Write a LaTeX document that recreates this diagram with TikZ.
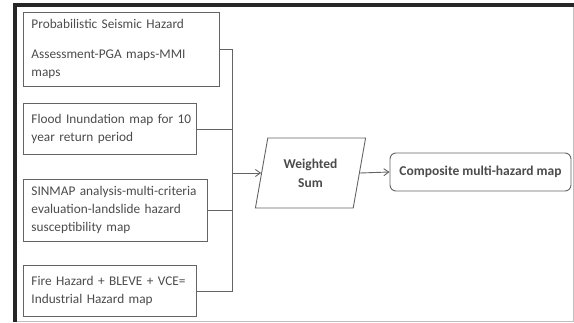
\documentclass[tikz,border=0pt]{standalone}
\usepackage{fontspec}
\setmainfont{Carlito}
\usetikzlibrary{arrows.meta,shapes.geometric}
\definecolor{edge}{RGB}{100,100,100}
\definecolor{ink}{RGB}{75,75,75}
\newcommand{\boxline}[1]{\mbox{#1}}
\tikzset{
  hazard/.style={draw=edge, line width=0.9pt, anchor=north west, align=left,
    inner xsep=8pt, inner ysep=0pt, font=\fontsize{13.3}{18}\selectfont, text=ink},
  link/.style={draw=edge, line width=0.9pt},
  flow/.style={link, -{Straight Barb[length=5pt,width=7pt]}},
}
\begin{document}
\begin{tikzpicture}[x=1pt,y=-1pt]
  \useasboundingbox (0,0) rectangle (574,322);
  % page frame
  \fill[black!85] (13,3) rectangle (574,6.5);
  \fill[black!85] (13,3) rectangle (16.5,322);
  \draw[black!25, line width=1pt] (573,6.5) -- (573,321) -- (16.5,321);

  % input hazard maps
  \node[hazard, text width=180pt, minimum height=74pt] (b1) at (23,12)
    {\boxline{Probabilistic Seismic Hazard}\\[12pt]\boxline{Assessment-PGA maps-MMI}\\\boxline{maps}};
  \node[hazard, text width=157pt, minimum height=51pt] (b2) at (23,103)
    {\boxline{Flood Inundation map for 10}\\\boxline{year return period}};
  \node[hazard, text width=168pt, minimum height=62pt] (b3) at (23,179)
    {\boxline{SINMAP analysis-multi-criteria}\\\boxline{evaluation-landslide hazard}\\\boxline{susceptibility map}};
  \node[hazard, text width=157pt, minimum height=51pt] (b4) at (23,265)
    {\boxline{Fire Hazard + BLEVE + VCE=}\\\boxline{Industrial Hazard map}};

  % weighted sum and result
  \node[draw=edge, line width=0.9pt, trapezium, trapezium left angle=76,
    trapezium right angle=104, trapezium stretches=true,
    minimum width=111pt, minimum height=70pt, align=center,
    font=\fontsize{13.5}{19}\selectfont\bfseries, text=ink] (ws) at (310.5,173)
    {Weighted\\Sum};
  \node[draw=edge, line width=0.9pt, rounded corners=6pt,
    minimum width=181pt, minimum height=38pt,
    font=\fontsize{13.5}{16}\selectfont\bfseries, text=ink] (cm) at (480.5,172)
    {Composite multi-hazard map};

  % collecting bus
  \coordinate (bus) at (232,0);
  \draw[link] (b1.east) -- (b1.east -| bus) -- (b4.east -| bus) -- (b4.east);
  \draw[link] (b2.east) -- (b2.east -| bus);
  \draw[link] (b3.east) -- (b3.east -| bus);
  \draw[flow] (bus |- ws.west) -- (ws.west);
  \draw[flow] (ws.east) -- (cm.west);
\end{tikzpicture}
\end{document}
